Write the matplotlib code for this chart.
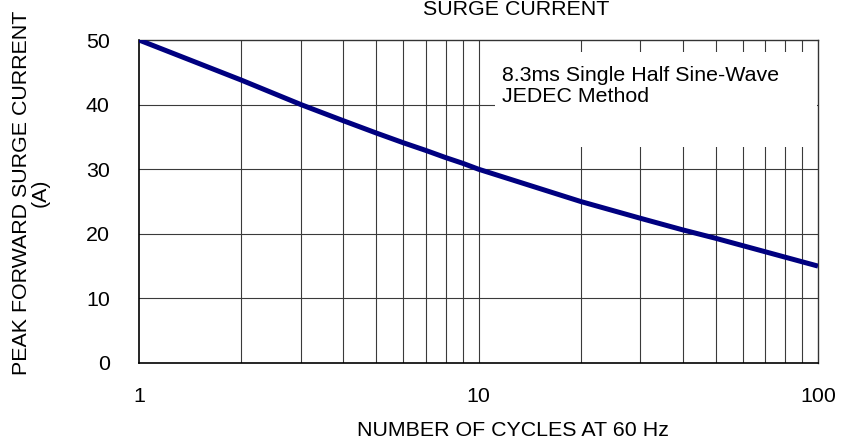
import numpy as np
import matplotlib
matplotlib.use("Agg")
import matplotlib.pyplot as plt
from matplotlib.patches import Rectangle

plt.rcParams['font.family'] = ['Liberation Sans', 'DejaVu Sans']

# data
cycles = [1, 2, 3, 4, 5, 6, 7, 8, 9, 10, 20, 30, 40, 50, 100]
current = [50, 43.8, 40, 37.5, 35.6, 34.1, 32.9, 31.8, 30.9, 30, 25, 22.4, 20.6, 19.3, 15]

y_ticks = [0, 10, 20, 30, 40, 50]
x_ticks = [1, 10, 100]
x_tick_labels = ['1', '10', '100']
note = "8.3ms Single Half Sine-Wave\nJEDEC Method"

W, H = 859, 447
fig = plt.figure(figsize=(W / 100, H / 100), dpi=100)
ax = fig.add_axes([139 / W, 84 / H, 679 / W, 323 / H])

fs = 15.4
grid_col = '#3a3a3a'

# grid: every integer cycle, and every 10 A
minor_x = [m * d for d in (1, 10) for m in range(2, 10)]
for xv in minor_x + [10]:
    ax.axvline(xv, color=grid_col, lw=0.8, zorder=1)
for yv in y_ticks[1:-1]:
    ax.axhline(yv, color=grid_col, lw=0.8, zorder=1)

ax.plot(cycles, current, color='#000080', lw=3.6, zorder=4, solid_capstyle='butt')

ax.set_xscale('log')
ax.set_xlim(1, 100)
ax.set_ylim(0, 50)
ax.set_xticks(x_ticks)
ax.set_xticklabels(x_tick_labels)
ax.set_yticks(y_ticks)
ax.xaxis.set_minor_locator(matplotlib.ticker.NullLocator())
ax.tick_params(axis='both', length=0, labelsize=fs)
ax.tick_params(axis='x', pad=17)
ax.tick_params(axis='y', pad=21)

for side in ['left', 'bottom']:
    ax.spines[side].set_color('black')
    ax.spines[side].set_linewidth(1.2)
for side in ['top', 'right']:
    ax.spines[side].set_color('#333333')
    ax.spines[side].set_linewidth(1.0)

# white box behind the note
ax.add_patch(Rectangle((0.524, 0.669), 0.4745, 0.294, transform=ax.transAxes,
                       facecolor='white', edgecolor='none', zorder=2))
ax.text(0.535, 0.92, note, transform=ax.transAxes, fontsize=fs,
        va='top', ha='left', linespacing=1.12, zorder=5)

fig.text(516 / W, 1 - 15 / H, "SURGE CURRENT", ha='center', va='baseline', fontsize=fs)
fig.text(513 / W, 1 - 430 / H, "NUMBER OF CYCLES AT 60 Hz", ha='center', va='center', fontsize=fs)
fig.text(31 / W, 1 - 193 / H, "PEAK FORWARD SURGE CURRENT\n(A)", rotation=90,
         ha='center', va='center', multialignment='center', fontsize=fs, linespacing=1.0)

fig.savefig('out.png', dpi=100)
